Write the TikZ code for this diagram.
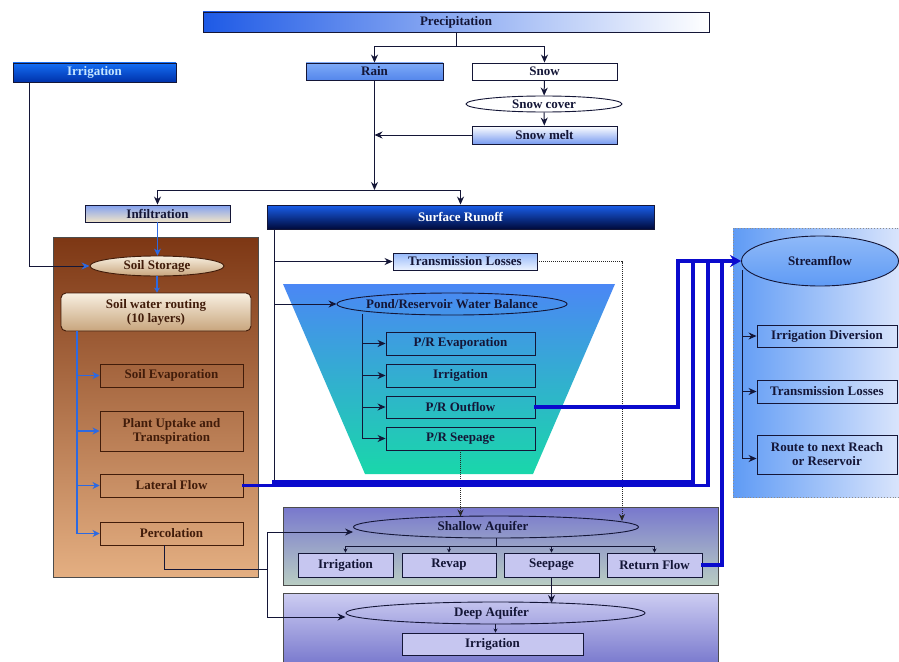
\documentclass[tikz,border=0pt]{standalone}
\usepackage{fontspec}
\setmainfont{Liberation Serif}
\usetikzlibrary{shapes.geometric,arrows.meta}
\definecolor{ink}{RGB}{20,22,55}
\definecolor{precL}{RGB}{30,90,230}
\definecolor{irrT}{RGB}{20,110,245}
\definecolor{irrB}{RGB}{0,50,170}
\definecolor{irrtext}{RGB}{195,228,255}
\definecolor{rainT}{RGB}{125,170,248}
\definecolor{rainB}{RGB}{85,135,235}
\definecolor{meltB}{RGB}{120,155,240}
\definecolor{infT}{RGB}{130,160,240}
\definecolor{infB}{RGB}{240,228,200}
\definecolor{srT}{RGB}{25,95,235}
\definecolor{srB}{RGB}{0,10,60}
\definecolor{soilT}{RGB}{125,55,20}
\definecolor{soilB}{RGB}{228,175,130}
\definecolor{soilink}{RGB}{65,28,10}
\definecolor{beigeT}{RGB}{248,240,225}
\definecolor{beigeB}{RGB}{200,165,125}
\definecolor{trT}{RGB}{75,135,245}
\definecolor{trB}{RGB}{25,215,170}
\definecolor{tlT}{RGB}{150,185,250}
\definecolor{tlB}{RGB}{235,242,255}
\definecolor{aqT}{RGB}{120,120,205}
\definecolor{aqM}{RGB}{205,205,242}
\definecolor{aqB}{RGB}{185,205,195}
\definecolor{kidfill}{RGB}{198,198,240}
\definecolor{stL}{RGB}{95,155,245}
\definecolor{stR}{RGB}{220,230,252}
\definecolor{flow}{RGB}{10,10,205}
\definecolor{soilblue}{RGB}{45,105,225}
\begin{document}
\begin{tikzpicture}[x=1pt,y=-1pt,
  font=\fontsize{13}{14}\selectfont\bfseries,
  bx/.style={draw=ink, line width=0.9pt, inner sep=0pt, align=center, text=ink},
  ell/.style={draw=ink, line width=0.9pt, ellipse, inner sep=0pt},
  sbx/.style={draw=soilink, line width=0.9pt, inner sep=0pt, align=center, text=soilink},
  panel/.style={draw=black!70, line width=0.8pt, inner sep=0pt},
  conn/.style={draw=ink, line width=1pt},
  arr/.style={conn, -{Stealth[length=8pt,width=7pt]}},
  sarr/.style={conn, line width=0.8pt, -{Stealth[length=4pt,width=4pt]}},
  barr/.style={draw=soilblue, line width=1.2pt, -{Stealth[length=7pt,width=7pt]}},
  flowl/.style={draw=flow, line width=3.5pt, line cap=rect},
  dotl/.style={draw=black!85, line width=1pt, densely dotted},
]
\useasboundingbox (0,0) rectangle (899,661);
\fill[white] (0,0) rectangle (899,661);

% ---------- panels ----------
\node[panel, draw=black!70, minimum width=205, minimum height=340,
      top color=soilT, bottom color=soilB] (soil) at (155.5,407) {};
\shade[top color=trT, bottom color=trB] (283,284) -- (615,284) -- (533,474) -- (365,474) -- cycle;
\node[panel, minimum width=435, minimum height=78,
      top color=aqT, middle color=aqM, bottom color=aqB] (shp) at (500.5,546) {};
\node[panel, minimum width=435, minimum height=72,
      top color=aqM, bottom color=aqT] (dpp) at (500.5,629) {};
\node[draw=black!45, dotted, line width=0.9pt, inner sep=0pt, minimum width=170, minimum height=269,
      left color=stL, right color=stR] (spanel) at (818,362.5) {};

% ---------- top nodes ----------
\node[bx, minimum width=506, minimum height=20, left color=precL, right color=white] (precip) at (456,22) {Precipitation};
\node[bx, minimum width=163, minimum height=19, top color=irrT, bottom color=irrB, text=irrtext] (irr) at (94.5,72.5) {Irrigation};
\node[bx, minimum width=137, minimum height=17, top color=rainT, bottom color=rainB] (rain) at (374.5,71.5) {Rain};
\node[bx, minimum width=145, minimum height=17, fill=white] (snow) at (544.5,71.5) {Snow};
\node[ell, minimum width=156, minimum height=16, fill=white, label={[text=ink]center:Snow cover}] (scover) at (544,104) {};
\node[bx, minimum width=145, minimum height=18, top color=white, bottom color=meltB] (smelt) at (544.5,135) {Snow melt};
\node[bx, minimum width=145, minimum height=17, top color=infT, bottom color=infB] (infil) at (157.5,213.5) {Infiltration};
\node[bx, minimum width=387, minimum height=24, top color=srT, bottom color=srB, text=white] (srun) at (460.5,217) {Surface Runoff};

% ---------- soil ----------
\node[ell, draw=soilink, minimum width=134, minimum height=20, top color=beigeT, bottom color=beigeB,
      label={[text=soilink]center:Soil Storage}] (sstor) at (157,266) {};
\node[sbx, rounded corners=5pt, minimum width=190, minimum height=38, top color=beigeT, bottom color=beigeB] (swr) at (156,312) {Soil water routing\\(10 layers)};
\node[sbx, minimum width=143, minimum height=23] (sevap) at (171.5,375.5) {Soil Evaporation};
\node[sbx, minimum width=143, minimum height=40] (plant) at (171.5,431) {Plant Uptake and\\Transpiration};
\node[sbx, minimum width=143, minimum height=23] (lat) at (171.5,485.5) {Lateral Flow};
\node[sbx, minimum width=143, minimum height=23] (perc) at (171.5,533.5) {Percolation};

% ---------- surface / reservoir ----------
\node[bx, minimum width=144, minimum height=17, top color=tlT, bottom color=tlB] (tl) at (465,261.5) {Transmission Losses};
\node[ell, minimum width=230, minimum height=22, label={[text=ink]center:Pond/Reservoir Water Balance}] (pond) at (452,304) {};
\node[bx, minimum width=149, minimum height=23] (preva) at (460.5,343.5) {P/R Evaporation};
\node[bx, minimum width=149, minimum height=23] (pirr) at (460.5,375.5) {Irrigation};
\node[bx, minimum width=149, minimum height=22] (pout) at (460.5,407) {P/R Outflow};
\node[bx, minimum width=149, minimum height=23] (pseep) at (460.5,438.5) {P/R Seepage};

% ---------- aquifers ----------
\node[ell, minimum width=285, minimum height=22, label={[text=ink,xshift=-13pt]center:Shallow Aquifer}] (shal) at (496,527) {};
\node[bx, minimum width=95, minimum height=24, fill=kidfill] (sirr) at (345.5,565) {Irrigation};
\node[bx, minimum width=94, minimum height=24, fill=kidfill] (revap) at (449,565) {Revap};
\node[bx, minimum width=95, minimum height=24, fill=kidfill] (seep) at (551.5,565) {Seepage};
\node[bx, minimum width=95, minimum height=24, fill=kidfill] (rflow) at (654.5,565) {Return Flow};
\node[ell, minimum width=299, minimum height=22, label={[text=ink,xshift=-4pt]center:Deep Aquifer}] (deep) at (495.5,613) {};
\node[bx, minimum width=181, minimum height=22, fill=kidfill] (dirr) at (492.5,644) {Irrigation};

% ---------- streamflow ----------
\node[ell, minimum width=157, minimum height=50, top color=stL!70!white, bottom color=stL,
      label={[text=ink]center:Streamflow}] (stream) at (820,261) {};
\node[bx, minimum width=140, minimum height=22] (idiv) at (827,336) {Irrigation Diversion};
\node[bx, minimum width=140, minimum height=23] (tlr) at (827,391.5) {Transmission Losses};
\node[bx, minimum width=140, minimum height=39] (route) at (827,454.5) {Route to next Reach\\or Reservoir};

% ---------- connectors: top ----------
\coordinate (pj) at (456,47);
\draw[conn] (precip.south) -- (pj);
\draw[arr] (pj) -| (rain.north);
\draw[arr] (pj) -| (snow.north);
\draw[arr] (snow) -- (scover);
\draw[arr] (scover) -- (smelt);
\draw[arr] (smelt.west) -- (smelt.west -| rain.south);
\coordinate (rj) at (374.5,190);
\draw[arr] (rain.south) -- (rj);
\draw[arr] (rj) -| (infil.north);
\draw[arr] (rj) -| (srun.north);

% ---------- connectors: soil ----------
\draw[conn, -{Stealth[length=8pt,width=7pt,color=soilblue]}] ([xshift=17pt]irr.south west) |- (sstor.west);
\draw[barr] (infil.south) -- (infil.south |- sstor.north);
\draw[barr, -{Stealth[length=5pt,width=6pt]}] (sstor.south) -- (sstor.south |- swr.north);
\coordinate (sva) at (77,331);
\draw[barr] (sva) |- (perc.west);
\draw[barr] (sva |- sevap.west) -- (sevap.west);
\draw[barr] (sva |- plant.west) -- (plant.west);
\draw[barr] (sva |- lat.west) -- (lat.west);

% ---------- connectors: surface runoff / reservoir ----------
\coordinate (sra) at (274,229);
\coordinate (srb) at (274,482);
\draw[conn] (sra) -- (srb);
\draw[arr] (sra |- tl.west) -- (tl.west);
\draw[arr] (sra |- pond.west) -- (pond.west);
\coordinate (pv) at (362,314);
\draw[arr] (pv) |- (pseep.west);
\draw[arr] (pv |- preva.west) -- (preva.west);
\draw[arr] (pv |- pirr.west) -- (pirr.west);
\draw[arr] (pv |- pout.west) -- (pout.west);
\draw[dotl, -{Stealth[length=7pt,width=6pt]}] (tl.east) -| (622,521);
\draw[dotl, -{Stealth[length=7pt,width=6pt]}] (pseep.south) -- (460.5,516.5);

% ---------- thick flow lines ----------
\coordinate (fa) at (678,261);
\draw[flowl] (pout.east) -| (fa);
\draw[flowl] (srb) -| (693,261);
\draw[flowl] (lat.east) -| (708,261);
\draw[flowl] (rflow.east) -| (722,261);
\draw[draw=flow, line width=3.5pt, -{Stealth[length=11pt,width=12pt]}] (fa) -- (stream.west);

% ---------- connectors: aquifers ----------
\draw[conn, line width=0.8pt] (shal.south) -- ++(0,8) coordinate (shj);
\draw[conn, line width=0.8pt] (sirr.north |- shj) -- (rflow.north |- shj);
\draw[sarr] (sirr.north |- shj) -- (sirr.north);
\draw[sarr] (revap.north |- shj) -- (revap.north);
\draw[sarr] (seep.north |- shj) -- (seep.north);
\draw[sarr] (rflow.north |- shj) -- (rflow.north);
\draw[arr] (seep.south) -- (551.5,603);
\draw[sarr] (deep.south) -- (deep.south |- dirr.north);
\coordinate (pc) at (267,569);
\draw[conn] ([xshift=-7.5pt]perc.south) |- (pc);
\draw[arr] (pc) |- ([yshift=-5pt]shal.west);
\draw[arr] (pc) |- ([yshift=-4pt]deep.west);

% ---------- connectors: streamflow ----------
\coordinate (sfv) at (742,270);
\draw[arr] (sfv) |- ([yshift=-4pt]route.west);
\draw[arr] (sfv |- idiv.west) -- (idiv.west);
\draw[arr] (sfv |- tlr.west) -- (tlr.west);
\end{tikzpicture}
\end{document}
